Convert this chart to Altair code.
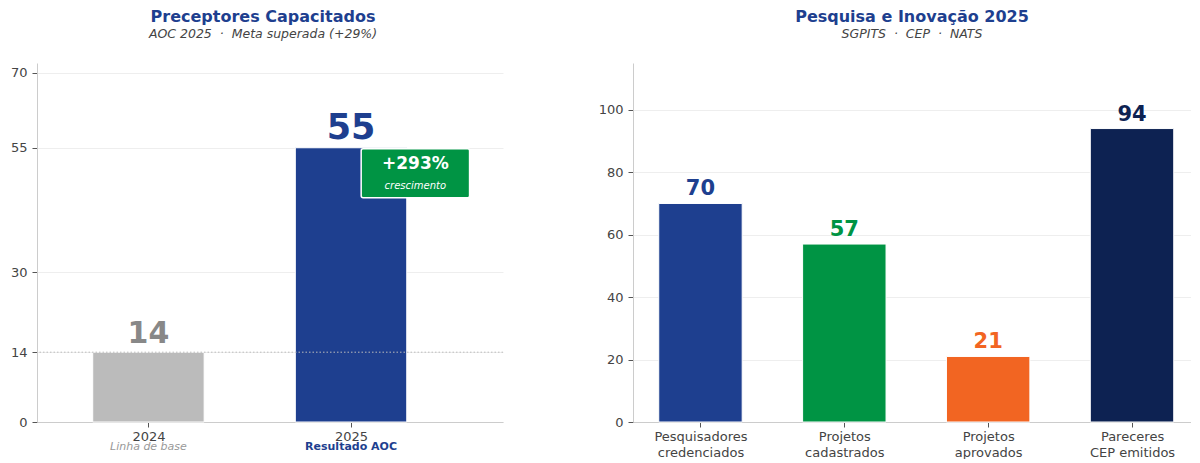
import altair as alt
import pandas as pd

# ---------------- data ----------------
years = ["2024", "2025"]
prec_values = [14, 55]
prec_sublabels = ["Linha de base", "Resultado AOC"]
growth_text = "+293%"
growth_sub = "crescimento"

res_categories = ["Pesquisadores\ncredenciados", "Projetos\ncadastrados",
                  "Projetos\naprovados", "Pareceres\nCEP emitidos"]
res_values = [70, 57, 21, 94]

left_ticks = [0, 14, 30, 55, 70]
right_ticks = [0, 20, 40, 60, 80, 100]

# ---------------- styles ----------------
FONT = "DejaVu Sans"
BLUE = "#1e3f8f"
GREEN = "#009444"
ORANGE = "#f26522"
NAVY = "#0d2252"
GRAY_BAR = "#bbbbbb"
prec_colors = [GRAY_BAR, BLUE]
prec_label_colors = ["#888888", BLUE]
prec_label_sizes = [30, 35]
res_colors = [BLUE, GREEN, ORANGE, NAVY]
NB = "\u00a0"

LW, LH = 466, 359
RW, RH = 558, 359

df_l = pd.DataFrame({"year": years, "value": prec_values, "sub": prec_sublabels,
                     "pos": list(range(len(years))), "col": prec_colors,
                     "lcol": prec_label_colors, "lsize": prec_label_sizes})
df_r = pd.DataFrame({"cat": res_categories, "value": res_values,
                     "pos": list(range(len(res_categories))), "col": res_colors})


def js_list(items):
    return "[" + ",".join("'" + s + "'" for s in items) + "]"


def js_multiline(items):
    return "[" + ",".join(js_list(s.split("\n")) for s in items) + "]"


axis_common = dict(labelFont=FONT, labelFontSize=13, labelColor="#444444",
                   domainColor="#cccccc", tickColor="#555555", tickSize=5,
                   title=None)


def title(text, sub, dx=0):
    return alt.TitleParams(text, subtitle=sub, font=FONT, fontSize=16, fontWeight="bold",
                           color=BLUE, subtitleFont=FONT, subtitleFontSize=12.5,
                           subtitleFontStyle="italic", subtitleColor="#444444",
                           subtitlePadding=3, offset=23, dx=dx, anchor="middle")


# ---------------- left panel ----------------
xl = alt.X("x0:Q", scale=alt.Scale(domain=[-0.55, 1.75], nice=False, zero=False),
           axis=alt.Axis(values=[0, 1], labelExpr=js_list(years) + "[datum.value]",
                         grid=False, labelPadding=3, **axis_common))
yl_scale = alt.Scale(domain=[0, 72], nice=False)

base_l = alt.Chart(df_l).transform_calculate(
    x0="datum.pos - 0.275", x1="datum.pos + 0.275", xc="datum.pos")

bars_l = base_l.mark_bar(stroke="white", strokeWidth=1).encode(
    x=xl, x2="x1:Q",
    y=alt.Y("value:Q", scale=yl_scale,
            axis=alt.Axis(values=left_ticks, grid=True, gridColor="#eeeeee",
                          labelPadding=5, minExtent=29, maxExtent=29, **axis_common)),
    y2=alt.datum(0),
    color=alt.Color("col:N", scale=None),
)

rule14 = alt.Chart(df_l).transform_filter("datum.pos == 0").mark_rule(
    color="#bbbbbb", strokeDash=[1.5, 2], strokeWidth=1).encode(y="value:Q")

lab_l = base_l.mark_text(font=FONT, fontWeight="bold", baseline="alphabetic", dy=-9).encode(
    x="xc:Q", y="value:Q", text="value:Q",
    color=alt.Color("lcol:N", scale=None),
    size=alt.Size("lsize:Q", scale=None),
)

sub_l0 = base_l.transform_filter("datum.pos == 0").mark_text(
    font=FONT, fontSize=11, fontStyle="italic", color="#999999", baseline="alphabetic").encode(
    x="xc:Q", y=alt.value(LH + 28), text="sub:N")
sub_l1 = base_l.transform_filter("datum.pos == 1").mark_text(
    font=FONT, fontSize=11, fontWeight="bold", color=BLUE, baseline="alphabetic").encode(
    x="xc:Q", y=alt.value(LH + 28), text="sub:N")

ann = pd.DataFrame({"x0": [1.05], "x1": [1.585], "y0": [45.0], "y1": [54.8],
                    "xm": [1.3175], "t": [growth_text], "s": [growth_sub]})
box = alt.Chart(ann).mark_rect(color=GREEN, stroke="white", strokeWidth=1.5,
                               cornerRadius=2).encode(
    x="x0:Q", x2="x1:Q", y="y0:Q", y2="y1:Q")
box_t = alt.Chart(ann).mark_text(font=FONT, fontSize=17, fontWeight="bold",
                                 color="white", baseline="middle").encode(
    x="xm:Q", y=alt.datum(51.7), text="t:N")
box_s = alt.Chart(ann).mark_text(font=FONT, fontSize=10, fontStyle="italic",
                                 color="white", baseline="middle").encode(
    x="xm:Q", y=alt.datum(47.4), text="s:N")

left = alt.layer(bars_l, rule14, lab_l, box, box_t, box_s, sub_l0, sub_l1).properties(
    width=LW, height=LH,
    title=title("Preceptores Capacitados",
                f"AOC 2025 {NB}·{NB} Meta superada (+29%)", dx=-7),
)

# ---------------- right panel ----------------
base_r = alt.Chart(df_r).transform_calculate(
    x0="datum.pos - 0.29", x1="datum.pos + 0.29", xc="datum.pos")
xr = alt.X("x0:Q", scale=alt.Scale(domain=[-0.469, 3.41], nice=False, zero=False),
           axis=alt.Axis(values=[0, 1, 2, 3],
                         labelExpr=js_multiline(res_categories) + "[datum.value]",
                         labelLineHeight=16, grid=False, labelPadding=3, **axis_common))
yr_scale = alt.Scale(domain=[0, 115], nice=False)

bars_r = base_r.mark_bar(stroke="white", strokeWidth=1).encode(
    x=xr, x2="x1:Q",
    y=alt.Y("value:Q", scale=yr_scale,
            axis=alt.Axis(values=right_ticks, grid=True, gridColor="#eeeeee",
                          labelPadding=5, minExtent=40, maxExtent=40, **axis_common)),
    y2=alt.datum(0),
    color=alt.Color("col:N", scale=None),
)
lab_r = base_r.mark_text(font=FONT, fontWeight="bold", fontSize=21,
                         baseline="alphabetic", dy=-8).encode(
    x="xc:Q", y="value:Q", text="value:Q",
    color=alt.Color("col:N", scale=None),
)

right = alt.layer(bars_r, lab_r).properties(
    width=RW, height=RH,
    title=title("Pesquisa e Inovação 2025", f"SGPITS {NB}·{NB} CEP {NB}·{NB} NATS"),
)

chart = alt.hconcat(left, right, spacing=89).properties(
    padding={"left": 0, "top": 0, "right": 0, "bottom": 0}
).configure(font=FONT).configure_view(stroke=None)

chart.save("out.html", embed_options={"renderer": "svg", "actions": False})
